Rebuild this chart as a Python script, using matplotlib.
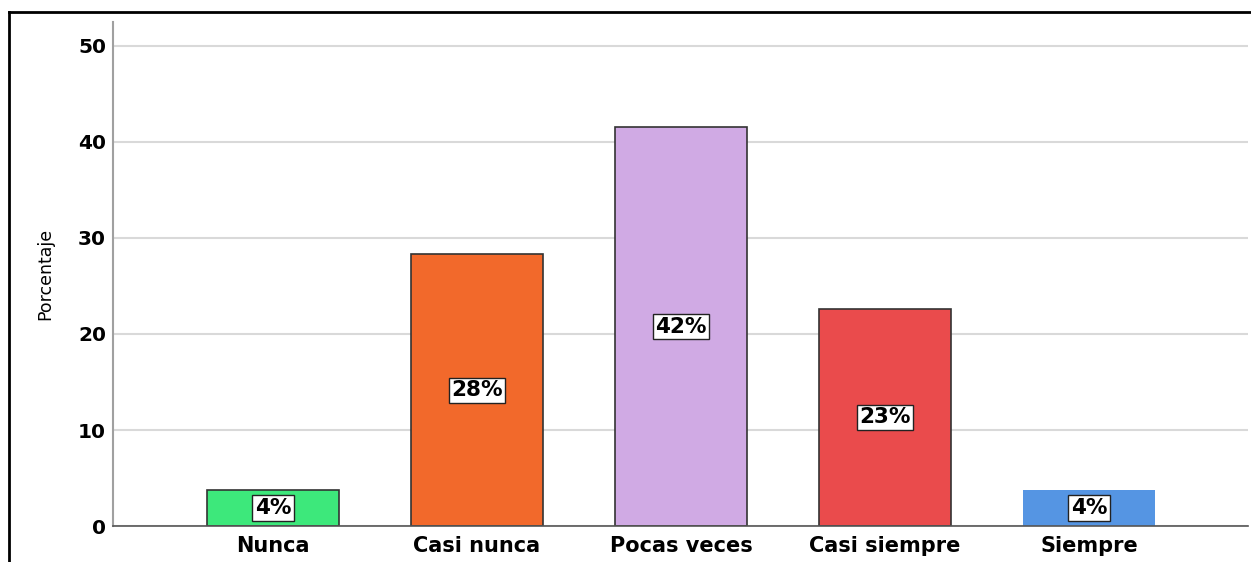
import matplotlib.pyplot as plt
from matplotlib.lines import Line2D

categories = ['Nunca', 'Casi nunca', 'Pocas veces', 'Casi siempre', 'Siempre']
values = [3.77, 28.30, 41.51, 22.64, 3.77]
labels = ['4%', '28%', '42%', '23%', '4%']
colors = ['#3de87b', '#f2692b', '#d0aae4', '#ea4b4c', '#5595e3']
edges = ['#333333', '#333333', '#333333', '#333333', 'none']
yticks = [0, 10, 20, 30, 40, 50]


def main():
    plt.rcParams['font.family'] = ['DejaVu Sans']
    fig = plt.figure(figsize=(12.51, 5.62), dpi=100)
    ax = fig.add_axes([0.0903, 0.064, 0.9073, 0.897])

    x = list(range(len(categories)))
    ax.set_axisbelow(True)
    ax.yaxis.grid(True, color='#d9d9d9', linewidth=1.5)
    ax.bar(x, values, width=0.65, color=colors, edgecolor=edges,
           linewidth=1.2, zorder=2)

    for i, v in enumerate(values):
        ax.text(i, v / 2, labels[i], ha='center', va='center',
                fontsize=15.5, fontweight='bold', zorder=3,
                bbox=dict(boxstyle='square,pad=0.12', fc='white',
                          ec='#222222', lw=1))

    ax.set_xlim(-0.785, 4.78)
    ax.set_ylim(0, 52.5)
    ax.set_xticks(x)
    ax.set_xticklabels(categories, fontsize=15, fontweight='bold')
    ax.set_yticks(yticks)
    ax.set_yticklabels([str(t) for t in yticks], fontsize=14.5,
                       fontweight='bold')
    ax.tick_params(axis='x', length=0, pad=7)
    ax.tick_params(axis='y', length=0, pad=5)
    ax.set_ylabel('Porcentaje', fontsize=12.5, labelpad=17)

    for s in ['top', 'right']:
        ax.spines[s].set_visible(False)
    ax.spines['left'].set_color('#a0a0a0')
    ax.spines['left'].set_linewidth(1.5)
    ax.spines['bottom'].set_color('#555555')
    ax.spines['bottom'].set_linewidth(1.2)

    # outer frame (top and left only visible)
    fx = 8.5 / 1251
    fy = 1 - 12 / 562
    fig.add_artist(Line2D([fx, 1.0], [fy, fy], color='black', lw=2,
                          transform=fig.transFigure))
    fig.add_artist(Line2D([fx, fx], [0, fy], color='black', lw=2,
                          transform=fig.transFigure))

    fig.savefig('out.png', dpi=100)


if __name__ == "__main__":
    main()
